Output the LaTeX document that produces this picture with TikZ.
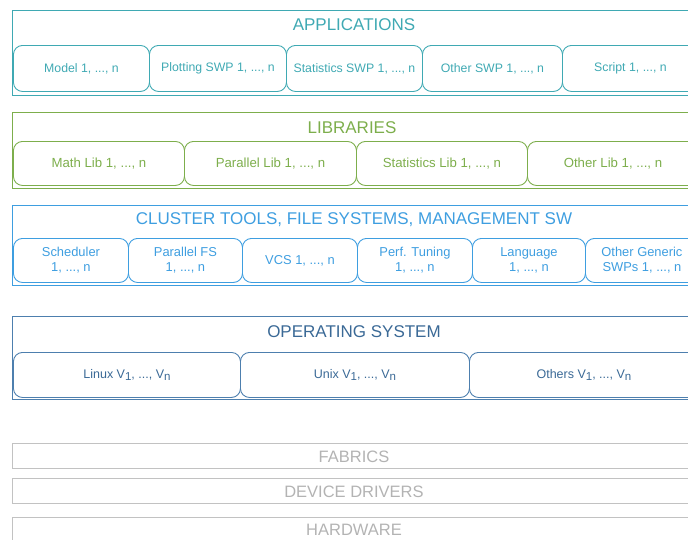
\documentclass[tikz,border=0pt]{standalone}
\usepackage{fontspec}
\setmainfont{Liberation Sans}
\definecolor{appc}{HTML}{3FA9B3}
\definecolor{libc}{HTML}{7DAE4C}
\definecolor{cluc}{HTML}{3E9EE0}
\definecolor{osc}{HTML}{4D7FAE}
\definecolor{ostx}{HTML}{3A6996}
\definecolor{grc}{HTML}{C2C2C2}
\definecolor{grt}{HTML}{B3B3B3}
\newcommand{\sbs}[1]{\raisebox{-0.45ex}{\fontsize{11.5}{12}\selectfont #1}}
\tikzset{
  outerbox/.style={draw, line width=1.4pt, anchor=north west, inner sep=0pt, minimum width=678pt},
  innerbox/.style={draw, line width=0.9pt, rounded corners=9pt, anchor=north west, inner sep=0pt, align=center},
  titletext/.style={inner sep=0pt, font=\fontsize{17}{19}\selectfont},
  graytext/.style={inner sep=0pt, font=\fontsize{16.5}{18}\selectfont, text=grt},
}
\begin{document}
\begin{tikzpicture}[x=1pt,y=-1pt]
\useasboundingbox (0,0) rectangle (688,539);
% Applications
\node[outerbox, draw=appc, minimum height=85pt] (appbox) at (12,10) {};
\node[titletext, text=appc] (apptitle) at (354,25) {APPLICATIONS};
\begin{scope}[every node/.style={innerbox, draw=appc, text=appc, minimum height=46pt, font=\fontsize{12.3}{14}\selectfont}]
\node[minimum width=136pt] (a1) at (13,45) {Model 1, ..., n};
\node[minimum width=137pt] (a2) at (149,45) {Plotting SWP 1, ..., n};
\node[minimum width=136pt] (a3) at (286,45) {Statistics SWP 1, ..., n};
\node[minimum width=140pt] (a4) at (422,45) {Other SWP 1, ..., n};
\node[minimum width=136pt] (a5) at (562,45) {Script 1, ..., n};
\end{scope}
% Libraries
\node[outerbox, draw=libc, minimum height=76pt] (libbox) at (12,112) {};
\node[titletext, text=libc] (libtitle) at (352,128) {LIBRARIES};
\begin{scope}[every node/.style={innerbox, draw=libc, text=libc, minimum height=44pt, font=\fontsize{13.2}{15}\selectfont}]
\node[minimum width=171pt] (l1) at (13,141) {Math Lib 1, ..., n};
\node[minimum width=172pt] (l2) at (184,141) {Parallel Lib 1, ..., n};
\node[minimum width=171pt] (l3) at (356,141) {Statistics Lib 1, ..., n};
\node[minimum width=171pt] (l4) at (527,141) {Other Lib 1, ..., n};
\end{scope}
% Cluster tools
\node[outerbox, draw=cluc, minimum height=80pt] (clubox) at (12,205) {};
\node[titletext, text=cluc] (clutitle) at (354,220) {CLUSTER TOOLS, FILE SYSTEMS, MANAGEMENT SW};
\begin{scope}[every node/.style={innerbox, draw=cluc, text=cluc, minimum height=44pt, font=\fontsize{12.9}{15}\selectfont}]
\node[minimum width=115pt] (c1) at (13,238) {Scheduler\\1, ..., n};
\node[minimum width=114pt] (c2) at (128,238) {Parallel FS\\1, ..., n};
\node[minimum width=115pt] (c3) at (242,238) {VCS 1, ..., n};
\node[minimum width=115pt] (c4) at (357,238) {Perf. Tuning\\1, ..., n};
\node[minimum width=113pt] (c5) at (472,238) {Language\\1, ..., n};
\node[minimum width=113pt] (c6) at (585,238) {Other Generic\\SWPs 1, ..., n};
\end{scope}
% Operating system
\node[outerbox, draw=osc, minimum height=83pt] (osbox) at (12,316) {};
\node[titletext, text=ostx] (ostitle) at (354,332) {OPERATING SYSTEM};
\begin{scope}[every node/.style={innerbox, draw=osc, text=ostx, minimum height=45pt, font=\fontsize{12.5}{14}\selectfont}]
\node[minimum width=227pt] (o1) at (13,352) {Linux V\sbs{1}, ..., V\sbs{n}};
\node[minimum width=229pt] (o2) at (240,352) {Unix V\sbs{1}, ..., V\sbs{n}};
\node[minimum width=229pt] (o3) at (469,352) {Others V\sbs{1}, ..., V\sbs{n}};
\end{scope}
% Gray layers
\node[outerbox, draw=grc, line width=1.3pt, minimum height=25pt] (fabbox) at (12,443) {};
\node[graytext] (fabtitle) at (354,457) {FABRICS};
\node[outerbox, draw=grc, line width=1.3pt, minimum height=25pt] (devbox) at (12,478) {};
\node[graytext] (devtitle) at (354,492) {DEVICE DRIVERS};
\node[outerbox, draw=grc, line width=1.3pt, minimum height=26pt] (hwbox) at (12,517) {};
\node[graytext] (hwtitle) at (354,530) {HARDWARE};
\end{tikzpicture}
\end{document}
